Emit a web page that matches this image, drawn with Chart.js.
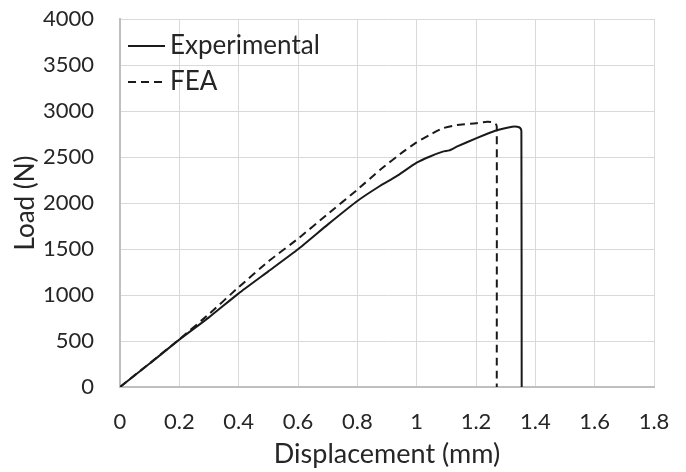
<!DOCTYPE html>
<html>
<head>
<meta charset="utf-8">
<script src="https://cdn.jsdelivr.net/npm/chart.js@4.4.1/dist/chart.umd.min.js"></script>
<style>
  html, body { margin: 0; padding: 0; background: #fff; }
  #wrap { width: 686px; height: 472px; }
</style>
</head>
<body>
<div id="wrap"><canvas id="loadChart" width="686" height="472"></canvas></div>
<script>
// displacement (mm) / load (N)
const expDisp = [0, 0.1, 0.2, 0.3, 0.4, 0.5, 0.6, 0.7, 0.8, 0.876, 0.93, 1.0, 1.043, 1.088, 1.11, 1.135, 1.2, 1.265, 1.322, 1.339, 1.349, 1.353, 1.354];
const expLoad = [0, 255, 515, 757, 1018, 1257, 1497, 1765, 2022, 2185, 2286, 2438, 2503, 2558, 2572, 2612, 2703, 2786, 2829, 2829, 2815, 2780, 0];

const feaDisp = [0, 0.1, 0.2, 0.3, 0.4, 0.5, 0.6, 0.7, 0.8, 0.876, 0.955, 1.0, 1.043, 1.088, 1.135, 1.2, 1.237, 1.254, 1.266, 1.27, 1.27];
const feaLoad = [0, 258, 518, 793, 1085, 1365, 1612, 1880, 2145, 2359, 2558, 2659, 2739, 2812, 2848, 2866, 2884, 2880, 2860, 2830, 0];

const seriesNames = ["Experimental", "FEA"];
const xTicks = [0, 0.2, 0.4, 0.6, 0.8, 1, 1.2, 1.4, 1.6, 1.8];
const yTicks = [0, 500, 1000, 1500, 2000, 2500, 3000, 3500, 4000];

const FONT = "Lato, 'Open Sans', sans-serif";
const pts = (xs, ys) => xs.map((x, i) => ({ x, y: ys[i] }));

// legend drawn inside the plot, Excel style
const insideLegend = {
  id: "insideLegend",
  afterDraw(chart) {
    const { ctx, chartArea } = chart;
    const x0 = chartArea.left + 8;
    const rows = [chartArea.top + 27, chartArea.top + 63];
    ctx.save();
    chart.data.datasets.forEach((ds, i) => {
      const y = rows[i];
      ctx.beginPath();
      ctx.setLineDash(ds.borderDash || []);
      ctx.lineWidth = ds.borderWidth;
      ctx.strokeStyle = ds.borderColor;
      ctx.moveTo(x0, y);
      ctx.lineTo(x0 + 37, y);
      ctx.stroke();
      ctx.setLineDash([]);
      ctx.fillStyle = "#262626";
      ctx.font = "26px " + FONT;
      ctx.textBaseline = "middle";
      ctx.fillText(ds.label, x0 + 42, y);
    });
    ctx.restore();
  },
};

new Chart(document.getElementById("loadChart"), {
  type: "scatter",
  data: {
    datasets: [
      {
        label: seriesNames[0],
        data: pts(expDisp, expLoad),
        showLine: true,
        borderColor: "#1a1a1a",
        borderWidth: 2,
        pointRadius: 0,
        tension: 0.15,
      },
      {
        label: seriesNames[1],
        data: pts(feaDisp, feaLoad),
        showLine: true,
        borderColor: "#1a1a1a",
        borderWidth: 2,
        borderDash: [8, 5],
        pointRadius: 0,
        tension: 0.15,
      },
    ],
  },
  options: {
    responsive: false,
    animation: false,
    layout: { padding: { top: 0, right: 32, left: 0, bottom: 0 } },
    plugins: {
      legend: { display: false },
      tooltip: { enabled: false },
    },
    scales: {
      x: {
        type: "linear",
        min: 0,
        max: 1.8,
        afterBuildTicks: (s) => { s.ticks = xTicks.map((v) => ({ value: v })); },
        afterFit: (s) => {
          s.height = 85;
          s.paddingLeft = 0;
          s.paddingRight = 0;
        },
        ticks: {
          color: "#262626",
          font: { family: FONT, size: 22 },
          padding: 22,
          maxRotation: 0,
          callback: (v) => String(v),
        },
        grid: { color: "#d9d9d9", lineWidth: 1, drawTicks: false },
        border: { color: "#bfbfbf", width: 2 },
        title: {
          display: true,
          text: "Displacement (mm)",
          color: "#262626",
          font: { family: FONT, size: 27 },
          padding: { top: 0, bottom: 2 },
        },
      },
      y: {
        type: "linear",
        min: 0,
        max: 4000,
        afterBuildTicks: (s) => { s.ticks = yTicks.map((v) => ({ value: v })); },
        afterFit: (s) => {
          s.width = 120;
          s.paddingTop = 19;
          s.paddingBottom = 0;
        },
        ticks: {
          color: "#262626",
          font: { family: FONT, size: 22 },
          padding: 26,
          callback: (v) => String(v),
        },
        grid: { color: "#d9d9d9", lineWidth: 1, drawTicks: false },
        border: { color: "#bfbfbf", width: 2 },
        title: {
          display: true,
          text: "Load (N)",
          color: "#262626",
          font: { family: FONT, size: 26 },
          padding: { bottom: 0, top: 10 },
        },
      },
    },
  },
  plugins: [insideLegend],
});
</script>
</body>
</html>
